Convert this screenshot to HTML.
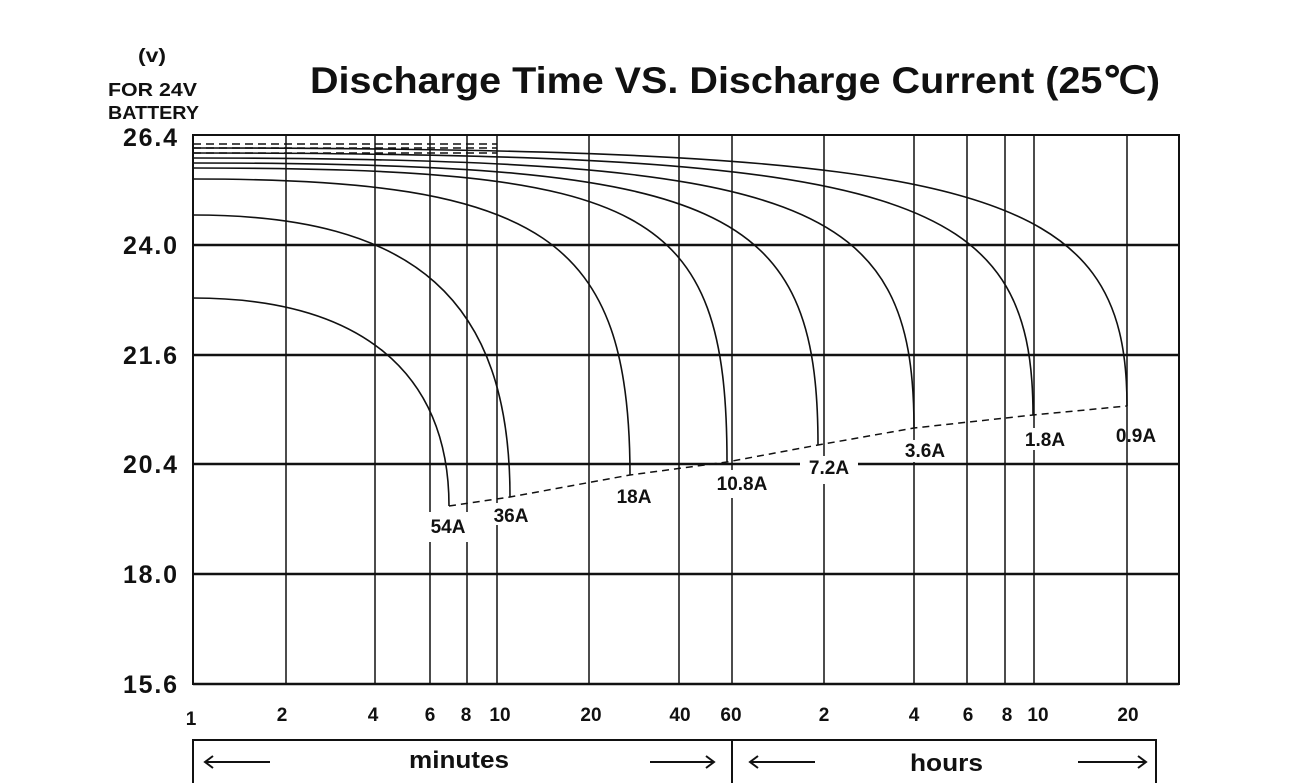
<!DOCTYPE html>
<html><head><meta charset="utf-8"><style>
html,body{margin:0;padding:0;background:#fff;}
svg{display:block;font-family:"Liberation Sans",Arial,sans-serif;}
</style></head><body>
<svg width="1299" height="783" viewBox="0 0 1299 783">
<text x="310" y="93" font-size="37" font-weight="bold" fill="#111" textLength="850" lengthAdjust="spacingAndGlyphs">Discharge Time VS. Discharge Current (25℃)</text>
<text x="138" y="62" font-size="19" font-weight="bold" fill="#111" textLength="28" lengthAdjust="spacingAndGlyphs">(v)</text>
<text x="108" y="96" font-size="18" font-weight="bold" fill="#111" textLength="89" lengthAdjust="spacingAndGlyphs">FOR 24V</text>
<text x="108" y="119" font-size="18" font-weight="bold" fill="#111" textLength="91" lengthAdjust="spacingAndGlyphs">BATTERY</text>
<g font-size="25" font-weight="bold" fill="#111" lengthAdjust="spacingAndGlyphs">
<text x="123" y="146" textLength="54">26.4</text>
<text x="123" y="254" textLength="54">24.0</text>
<text x="123" y="364" textLength="54">21.6</text>
<text x="123" y="473" textLength="54">20.4</text>
<text x="123" y="583" textLength="54">18.0</text>
<text x="123" y="693" textLength="54">15.6</text>
</g>
<g stroke="#111" stroke-width="1.5">
<line x1="286" y1="135" x2="286" y2="684"/><line x1="375" y1="135" x2="375" y2="684"/>
<line x1="430" y1="135" x2="430" y2="684"/><line x1="467" y1="135" x2="467" y2="684"/>
<line x1="497" y1="135" x2="497" y2="684"/><line x1="589" y1="135" x2="589" y2="684"/>
<line x1="679" y1="135" x2="679" y2="684"/><line x1="732" y1="135" x2="732" y2="684"/>
<line x1="824" y1="135" x2="824" y2="684"/><line x1="914" y1="135" x2="914" y2="684"/>
<line x1="967" y1="135" x2="967" y2="684"/><line x1="1005" y1="135" x2="1005" y2="684"/>
<line x1="1034" y1="135" x2="1034" y2="684"/><line x1="1127" y1="135" x2="1127" y2="684"/>
</g>
<g stroke="#111" stroke-width="2.5">
<line x1="193" y1="245" x2="1179" y2="245"/><line x1="193" y1="355" x2="1179" y2="355"/>
<line x1="193" y1="464" x2="1179" y2="464"/><line x1="193" y1="574" x2="1179" y2="574"/>
<line x1="193" y1="684" x2="1179" y2="684"/>
</g>
<rect x="193" y="135" width="986" height="549" fill="none" stroke="#111" stroke-width="2"/>
<g stroke="#111" stroke-width="1.5" stroke-dasharray="8,5">
<line x1="193" y1="144" x2="497" y2="144"/><line x1="193" y1="148" x2="497" y2="148"/><line x1="193" y1="153" x2="497" y2="153"/>
</g>
<g fill="none" stroke="#111" stroke-width="1.6">
<path d="M193,298 C359,298 449,371 449,506"/>
<path d="M193,215 C415,215 510,300 510,497"/>
<path d="M193,179 C543,179 630,238 630,475"/>
<path d="M193,168 C647,168 727,206 727,462"/>
<path d="M193,163 C724,163 818,205 818,445"/>
<path d="M193,158 C806,158 914,199 914,428"/>
<path d="M193,153 C907,153 1033,192 1033,415"/>
<path d="M193,148 C987,148 1127,187 1127,406"/>
</g>
<polyline points="449,506 510,497 630,475 727,462 818,445 914,428 1033,415 1127,406" fill="none" stroke="#111" stroke-width="1.5" stroke-dasharray="7,5"/>
<g font-size="19" font-weight="bold" text-anchor="middle" fill="#111">
<rect x="424" y="512" width="48" height="30" fill="#fff"/><text x="448" y="533">54A</text>
<rect x="488" y="503" width="46" height="22" fill="#fff"/><text x="511" y="522">36A</text>
<rect x="612" y="484" width="44" height="22" fill="#fff"/><text x="634" y="503">18A</text>
<rect x="710" y="470" width="64" height="28" fill="#fff"/><text x="742" y="490">10.8A</text>
<rect x="800" y="456" width="58" height="28" fill="#fff"/><text x="829" y="474">7.2A</text>
<rect x="896" y="440" width="58" height="22" fill="#fff"/><text x="925" y="457">3.6A</text>
<rect x="1016" y="428" width="58" height="22" fill="#fff"/><text x="1045" y="446">1.8A</text>
<text x="1136" y="442">0.9A</text>
</g>
<g font-size="19" font-weight="bold" text-anchor="middle" fill="#111">
<text x="191" y="725">1</text><text x="282" y="721">2</text><text x="373" y="721">4</text>
<text x="430" y="721">6</text><text x="466" y="721">8</text><text x="500" y="721">10</text>
<text x="591" y="721">20</text><text x="680" y="721">40</text><text x="731" y="721">60</text>
<text x="824" y="721">2</text><text x="914" y="721">4</text><text x="968" y="721">6</text>
<text x="1007" y="721">8</text><text x="1038" y="721">10</text><text x="1128" y="721">20</text>
</g>
<g stroke="#111" stroke-width="2" fill="none">
<polyline points="193,783 193,740 1156,740 1156,783"/>
<line x1="732" y1="740" x2="732" y2="783"/>
<line x1="205" y1="762" x2="270" y2="762"/><polyline points="213,756 205,762 213,768"/>
<line x1="650" y1="762" x2="714" y2="762"/><polyline points="706,756 714,762 706,768"/>
<line x1="750" y1="762" x2="815" y2="762"/><polyline points="758,756 750,762 758,768"/>
<line x1="1078" y1="762" x2="1146" y2="762"/><polyline points="1138,756 1146,762 1138,768"/>
</g>
<text x="409" y="768" font-size="24" font-weight="bold" fill="#111" textLength="100" lengthAdjust="spacingAndGlyphs">minutes</text>
<text x="910" y="771" font-size="24" font-weight="bold" fill="#111" textLength="73" lengthAdjust="spacingAndGlyphs">hours</text>
</svg>
</body></html>
